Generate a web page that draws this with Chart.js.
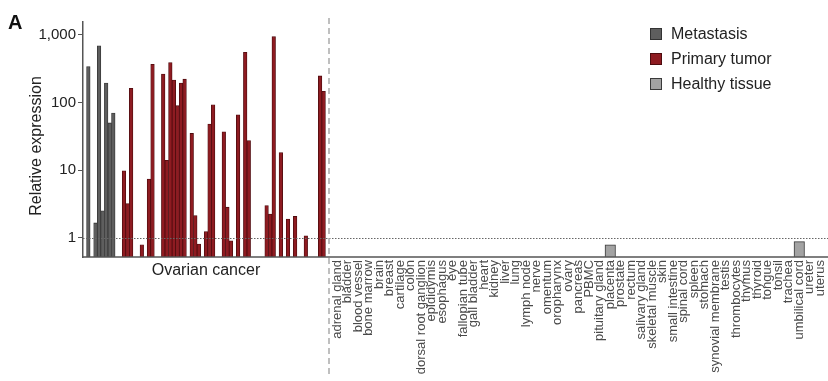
<!DOCTYPE html>
<html><head><meta charset="utf-8">
<script src="https://cdn.jsdelivr.net/npm/chart.js@4.4.1/dist/chart.umd.min.js"></script>
<style>
html,body{margin:0;padding:0;background:#fff;}
body{width:828px;height:381px;position:relative;overflow:hidden;font-family:"Liberation Sans",Arial,sans-serif;}
#left{position:absolute;left:0;top:0;}
#right{position:absolute;left:327px;top:0;}
#panel{position:absolute;left:8px;top:11px;font-weight:bold;font-size:20px;color:#111;line-height:normal;}
#legend{position:absolute;left:650px;top:21px;}
.item{display:flex;align-items:center;height:25px;font-size:16px;color:#222;white-space:nowrap;}
.sw{width:12px;height:12px;border:1px solid;margin-right:9px;box-sizing:border-box;}
</style></head><body>
<canvas id="left" width="329" height="381"></canvas>
<canvas id="right" width="501" height="381"></canvas>
<div id="panel">A</div>
<div id="legend"></div>
<script>
// ---- data ----
const yTicks = [1, 10, 100, 1000];
// Ovarian cancer samples (relative expression); null = below axis floor
const metastasis = [340, null, 1.66, 690, 2.5, 194, 50, 70];
const primaryTumor = [null, null, 9.8, 3.2, 163, null, null, 0.79, null, 7.4,
  369, null, null, 265, 14, 390, 216, 90, 194, 222,
  null, 35, 2.13, 0.81, null, 1.24, 48, 93, null, null,
  37, 2.84, 0.9, null, 66, null, 555, 27.5, null, null,
  null, null, 3.0, 2.24, 944, null, 18.2, null, 1.9, null,
  2.07, null, null, 1.07, null, null, null, 248, 147];
const tissues = ['adrenal gland','bladder','blood vessel','bone marrow','brain','breast','cartilage','colon',
  'dorsal root ganglion','epididymis','esophagus','eye','fallopian tube','gall bladder','heart','kidney','liver',
  'lung','lymph node','nerve','omentum','oropharynx','ovary','pancreas','PBMC','pituitary gland','placenta',
  'prostate','rectum','salivary gland','skeletal muscle','skin','small intestine','spinal cord','spleen',
  'stomach','synovial membrane','testis','thrombocytes','thymus','thyroid','tongue','tonsil','trachea',
  'umbilical cord','ureter','uterus'];
const healthyTissue = [null, null, null, null, null, null, null, null, null, null,
  null, null, null, null, null, null, null, null, null, null,
  null, null, null, null, null, null, 0.79, null, null, null,
  null, null, null, null, null, null, null, null, null, null,
  null, null, null, null, 0.88, null, null];

// ---- setup ----
const FONT = "'Liberation Sans', Arial, sans-serif";
Chart.defaults.font.family = FONT;
const Y_MIN = 0.52, Y_MAX = 1557;

const sampleLabels = [' ', ...metastasis.map((_, i) => 'M' + (i + 1)),
  ...primaryTumor.map((_, i) => 'P' + (i + 1)), '  '];
function placeSeries(values, start) {
  return sampleLabels.map((_, i) => {
    const k = i - 1 - start;
    return (k >= 0 && k < values.length) ? values[k] : null;
  });
}

const guideLines = {
  id: 'guideLines',
  afterDatasetsDraw(chart, args, opts) {
    const {ctx, chartArea} = chart;
    const y = chart.scales.y;
    const x0 = opts.x0 != null ? opts.x0 : chartArea.left;
    const x1 = chart.width;
    const y1 = Math.round(y.getPixelForValue(1)) + 0.5;
    ctx.save();
    ctx.strokeStyle = '#666'; ctx.lineWidth = 1; ctx.setLineDash([1.5, 1.5]);
    ctx.beginPath(); ctx.moveTo(x0, y1); ctx.lineTo(x1, y1); ctx.stroke();
    ctx.setLineDash([]); ctx.strokeStyle = '#555'; ctx.lineWidth = 1.5;
    ctx.beginPath(); ctx.moveTo(x0, chartArea.bottom); ctx.lineTo(x1, chartArea.bottom); ctx.stroke();
    if (opts.divider != null) {
      ctx.strokeStyle = '#aaa'; ctx.lineWidth = 1.5; ctx.setLineDash([6, 4]);
      ctx.beginPath(); ctx.moveTo(opts.divider, 18); ctx.lineTo(opts.divider, 377); ctx.stroke();
    }
    ctx.restore();
  }
};
const yTitle = {
  id: 'yTitle',
  afterDraw(chart, args, opts) {
    const ctx = chart.ctx;
    ctx.save();
    ctx.translate(opts.x, opts.y);
    ctx.rotate(-Math.PI / 2);
    ctx.font = '16px ' + FONT;
    ctx.fillStyle = '#222';
    ctx.textAlign = 'center';
    ctx.textBaseline = 'alphabetic';
    ctx.fillText(opts.text, 0, 0);
    ctx.restore();
  }
};

const barStyle = {grouped: false, barPercentage: 1, categoryPercentage: 1, borderWidth: 0.8};

const leftChart = new Chart(document.getElementById('left'), {
  type: 'bar',
  data: {
    labels: sampleLabels,
    datasets: [
      Object.assign({label: 'Metastasis', data: placeSeries(metastasis, 0),
        backgroundColor: '#5e5e5e', borderColor: '#333'}, barStyle),
      Object.assign({label: 'Primary tumor', data: placeSeries(primaryTumor, metastasis.length),
        backgroundColor: '#8e1b21', borderColor: '#4d0b0e'}, barStyle)
    ]
  },
  options: {
    responsive: false, animation: false, devicePixelRatio: 1,
    layout: {padding: {top: 22, left: 0, right: 0, bottom: 0}},
    plugins: {
      legend: {display: false}, tooltip: {enabled: false},
      guideLines: {},
      yTitle: {text: 'Relative expression', x: 41, y: 146}
    },
    scales: {
      x: {
        type: 'category', offset: true,
        grid: {display: false, drawTicks: false}, border: {display: false},
        ticks: {display: false},
        title: {display: true, text: 'Ovarian cancer', color: '#222', font: {size: 16}, padding: {top: 0, bottom: 101}},
        afterFit(s) { s.height = 124; s.paddingLeft = 0; s.paddingRight = 0; }
      },
      y: {
        type: 'logarithmic', min: Y_MIN, max: Y_MAX,
        afterBuildTicks(a) { a.ticks = yTicks.map(v => ({value: v})); },
        ticks: {callback: v => Number(v).toLocaleString('en-US'), color: '#222', font: {size: 15}, padding: 2, autoSkip: false},
        grid: {drawOnChartArea: false, drawTicks: true, tickLength: 5, color: '#555', lineWidth: 1},
        border: {display: true, color: '#555', width: 1.5},
        afterFit(s) { s.width = 83; }
      }
    }
  },
  plugins: [guideLines, yTitle]
});

const rightChart = new Chart(document.getElementById('right'), {
  type: 'bar',
  data: {
    labels: tissues,
    datasets: [
      Object.assign({label: 'Healthy tissue', data: healthyTissue,
        backgroundColor: '#a3a3a3', borderColor: '#3a3a3a'}, barStyle, {borderWidth: 1})
    ]
  },
  options: {
    responsive: false, animation: false, devicePixelRatio: 1,
    layout: {padding: {top: 22, left: 5, right: 2.5, bottom: 0}},
    plugins: {
      legend: {display: false}, tooltip: {enabled: false},
      guideLines: {x0: 2, divider: 2}
    },
    scales: {
      x: {
        type: 'category', offset: true,
        grid: {display: false, drawTicks: false}, border: {display: false},
        ticks: {minRotation: 90, maxRotation: 90, autoSkip: false, color: '#4a4a4a', font: {size: 13}, padding: 3},
        afterFit(s) { s.height = 124; s.paddingLeft = 0; s.paddingRight = 0; }
      },
      y: {type: 'logarithmic', display: false, min: Y_MIN, max: Y_MAX}
    }
  },
  plugins: [guideLines]
});

// HTML legend built from the charts' datasets
const legendEl = document.getElementById('legend');
[...leftChart.data.datasets, ...rightChart.data.datasets].forEach(ds => {
  const row = document.createElement('div'); row.className = 'item';
  const sw = document.createElement('span'); sw.className = 'sw';
  sw.style.background = ds.backgroundColor; sw.style.borderColor = ds.borderColor;
  const t = document.createElement('span'); t.textContent = ds.label;
  row.appendChild(sw); row.appendChild(t); legendEl.appendChild(row);
});
</script>
</body></html>
